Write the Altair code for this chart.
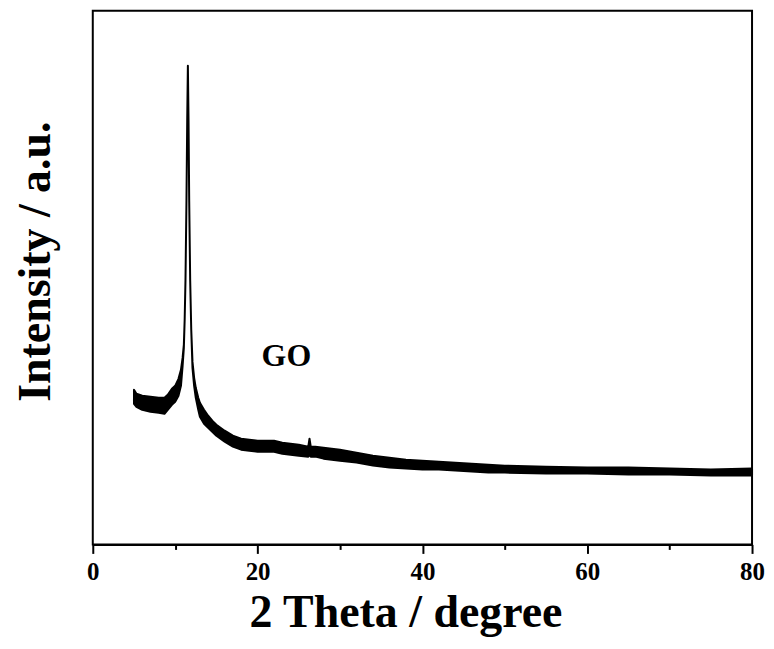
import altair as alt
import pandas as pd

# 2-theta positions (degree) and the upper / lower edge of the noisy trace (a.u.)
theta = [5.0, 5.3, 6, 7, 8, 8.7, 9.1, 9.6, 10.0, 10.4, 10.7, 10.9, 11.05,
         11.15, 11.25, 11.37, 11.46, 11.54, 11.62, 11.70, 11.82, 11.95,
         12.1, 12.3, 12.5, 12.8, 13.0, 13.5, 14, 14.5, 15, 16, 17, 18, 19, 20,
         21, 22, 23, 24, 25, 26.15, 26.3, 26.45, 27, 28, 29, 30, 32, 34, 36, 38,
         40, 42, 44, 46, 48, 50, 55, 60, 65, 70, 75, 80]
upper = [1550, 1510, 1490, 1480, 1470, 1470, 1500, 1560, 1590, 1660, 1750, 1870, 2000,
         2250, 2650, 3450, 4250, 4800, 4250, 3450, 2650, 2150,
         1830, 1670, 1570, 1470, 1420, 1350, 1290, 1240, 1200, 1140, 1090, 1060, 1050, 1040,
         1040, 1040, 1020, 1010, 1000, 980, 1060, 980, 980, 970, 960, 950, 920, 890, 870, 850,
         840, 830, 820, 810, 800, 790, 780, 770, 770, 760, 750, 760]
lower = [1410, 1380, 1350, 1330, 1320, 1310, 1350, 1400, 1430, 1490, 1590, 1790, 1970,
         2250, 2650, 3450, 4250, 4800, 4250, 3450, 2650, 2150,
         1770, 1590, 1470, 1350, 1280, 1210, 1170, 1130, 1090, 1030, 980, 950, 940, 930,
         930, 930, 910, 900, 890, 880, 900, 880, 880, 860, 850, 840, 820, 790, 770, 760,
         750, 750, 740, 730, 720, 720, 710, 710, 700, 700, 690, 690]

label_text = ["GO"]
label_theta = [23.5]
label_int = [1785]

FONT = "Liberation Serif"

df = pd.DataFrame({"theta": theta, "upper": upper, "lower": lower})
lab = pd.DataFrame({"t": label_text, "x": label_theta, "y": label_int})

xscale = alt.Scale(domain=[0, 80], nice=False, zero=False)
yscale = alt.Scale(domain=[0, 5350], nice=False, zero=False)

xaxis = alt.Axis(
    title="2 Theta / degree",
    values=[0, 10, 20, 30, 40, 50, 60, 70, 80],
    labelExpr="datum.value % 20 === 0 ? datum.label : ''",
    tickSize={"condition": {"test": "datum.value % 20 === 0", "value": 9}, "value": 5},
    tickWidth=2, tickColor="black",
    domain=True, domainColor="black", domainWidth=2,
    grid=False,
    labelFont=FONT, labelFontSize=25, labelFontWeight="bold", labelColor="black",
    labelPadding=6, labelFlush=False, labelOverlap=False,
    titleFont=FONT, titleFontSize=46, titleFontWeight="bold", titleColor="black",
    titleX=313.5, titleY=82, titleBaseline="alphabetic", titleAlign="center",
)
yaxis = alt.Axis(
    title="Intensity / a.u.", labels=False, ticks=False, domain=False, grid=False,
    titleFont=FONT, titleFontSize=46, titleFontWeight="bold", titleColor="black",
    titleX=-43, titleY=251, titleBaseline="alphabetic", titleAlign="center", titleAngle=270,
)

band = alt.Chart(df).mark_area(
    color="black", stroke="black", strokeWidth=2, strokeJoin="round", opacity=1
).encode(
    x=alt.X("theta:Q", scale=xscale, axis=xaxis),
    y=alt.Y("upper:Q", scale=yscale, axis=yaxis),
    y2="lower:Q",
)

text = alt.Chart(lab).mark_text(
    font=FONT, fontSize=32, fontWeight="bold", color="black",
    align="center", baseline="alphabetic"
).encode(
    x=alt.X("x:Q", scale=xscale),
    y=alt.Y("y:Q", scale=yscale),
    text="t:N",
)

chart = alt.layer(band, text).properties(
    width=661, height=535,
    autosize=alt.AutoSizeParams(type="none"),
    padding={"left": 85, "top": 2, "right": 14, "bottom": 94},
    background="white",
).configure_view(stroke="black", strokeWidth=2)

chart.save("out.html", embed_options={"renderer": "svg", "actions": False})
